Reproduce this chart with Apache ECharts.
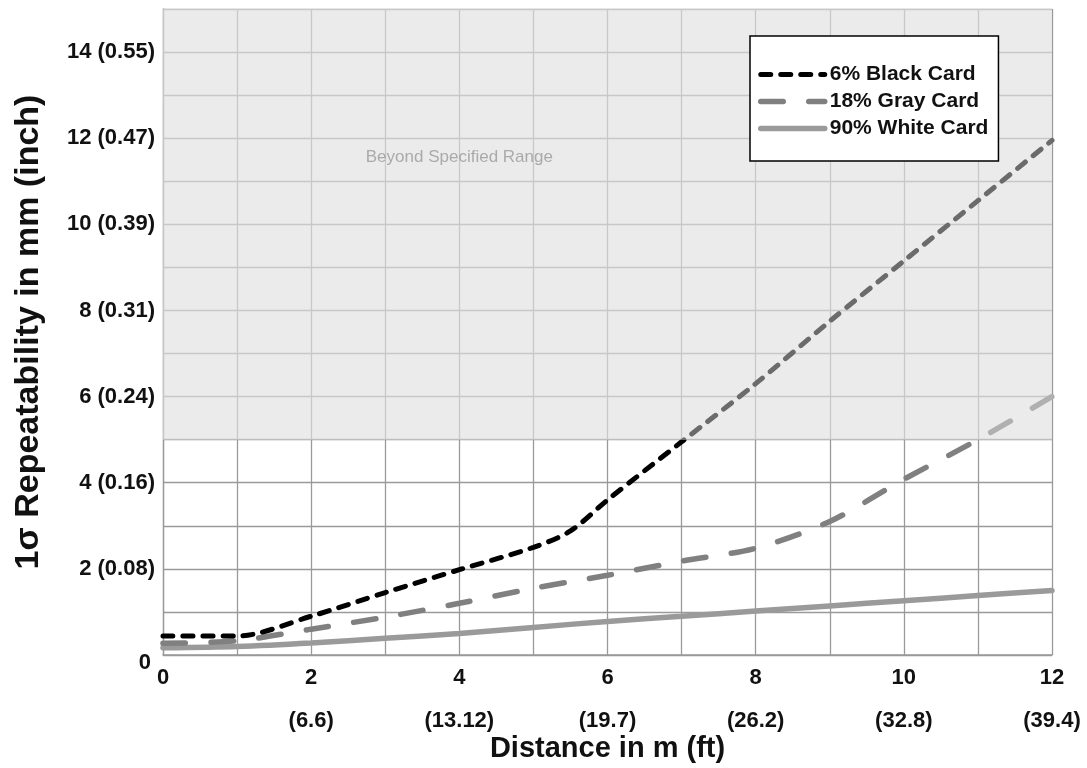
<!DOCTYPE html>
<html><head><meta charset="utf-8">
<script src="https://cdn.jsdelivr.net/npm/echarts@6/dist/echarts.min.js"></script>
<style>html,body{margin:0;padding:0;background:#fff}#c{width:1087px;height:768px}</style>
</head><body><div id="c"></div>
<script>
// ---- data ----
const blackX = [0, 1, 2, 3, 4, 5, 5.5, 6, 7, 8, 9, 10, 11, 12];
const blackY = [0.44, 0.44, 0.9, 1.45, 1.98, 2.5, 2.88, 3.6, 4.95, 6.3, 7.75, 9.15, 10.55, 11.95];
const grayX = [0, 1, 2, 3, 4, 5, 6, 7, 8, 9, 10, 11, 12];
const grayY = [0.27, 0.33, 0.6, 0.88, 1.2, 1.55, 1.85, 2.18, 2.48, 3.1, 4.08, 5.0, 6.0];
const whiteX = [0, 1, 2, 3, 4, 5, 6, 7, 8, 9, 10, 11, 12];
const whiteY = [0.17, 0.2, 0.28, 0.39, 0.5, 0.64, 0.78, 0.9, 1.02, 1.14, 1.26, 1.38, 1.5];
const seriesNames = ['6% Black Card', '18% Gray Card', '90% White Card'];
const xTickValues = [0, 2, 4, 6, 8, 10, 12];
const xTickFeet = ['', '(6.6)', '(13.12)', '(19.7)', '(26.2)', '(32.8)', '(39.4)'];
const yTickValues = [0, 2, 4, 6, 8, 10, 12, 14];
const yTickLabels = ['0', '2 (0.08)', '4 (0.16)', '6 (0.24)', '8 (0.31)', '10 (0.39)', '12 (0.47)', '14 (0.55)'];
const specLimit = 5;
const yMax = 15;
const regionText = 'Beyond Specified Range';
const regionTextAt = [4, 11.55];

const FONT = "'Liberation Sans Narrow', 'Liberation Sans', Arial, sans-serif";
const pairs = (xs, ys) => xs.map((x, i) => [x, ys[i]]);

const C = { black: '#000', blackOut: '#6b6b6b', gray: '#808080', grayOut: '#b0b0b0', white: '#9a9a9a' };
const blackStyle = { color: C.black, width: 5, type: [10, 10], cap: 'round' };
const grayStyle = { color: C.gray, width: 5.5, type: [22.5, 25.5], cap: 'round' };
const whiteStyle = { color: C.white, width: 5.5, type: 'solid', cap: 'round' };
const hiddenSymbol = { opacity: 0 };

const chart = echarts.init(document.getElementById('c'));
chart.setOption({
  animation: false,
  backgroundColor: '#fff',
  grid: { left: 163, right: 35, top: 9, bottom: 113, outerBoundsMode: 'none', containLabel: false },
  xAxis: {
    type: 'value', min: 0, max: 12, interval: 1,
    name: 'Distance in m (ft)', nameLocation: 'middle', nameGap: 79, nameMoveOverlap: false,
    nameTextStyle: { fontFamily: FONT, fontWeight: 'bold', fontSize: 29, color: '#111' },
    axisLine: { lineStyle: { color: '#999', width: 1.5 } },
    axisTick: { show: false },
    splitLine: { show: true, lineStyle: { color: '#9a9a9a', width: 1.3 } },
    axisLabel: {
      margin: 1, lineHeight: 43,
      fontFamily: FONT, fontWeight: 'bold', fontSize: 22, color: '#111',
      formatter: v => {
        const i = xTickValues.indexOf(v);
        if (i < 0) return '';
        return xTickFeet[i] ? v + '\n' + xTickFeet[i] : String(v);
      }
    }
  },
  yAxis: {
    type: 'value', min: 0, max: yMax, interval: 1,
    name: '1σ Repeatability in mm (inch)', nameLocation: 'middle', nameGap: 117, nameMoveOverlap: false,
    nameTextStyle: { fontFamily: FONT, fontWeight: 'bold', fontSize: 34, color: '#111' },
    axisLine: { show: true, lineStyle: { color: '#999', width: 1.3 } },
    axisTick: { show: false },
    splitLine: { show: true, lineStyle: { color: '#9a9a9a', width: 1.3 } },
    axisLabel: {
      margin: 8, fontFamily: FONT, fontWeight: 'bold', fontSize: 22, color: '#111',
      formatter: v => {
        const i = yTickValues.indexOf(v);
        if (i < 0) return '';
        return v === 0 ? '{z|}\n{z|' + yTickLabels[i] + '}' : yTickLabels[i];
      },
      rich: { z: { fontFamily: FONT, fontWeight: 'bold', fontSize: 22, color: '#111', lineHeight: 16, padding: [0, 4, 0, 0] } }
    }
  },
  legend: {
    orient: 'vertical', left: 750, top: 36,
    backgroundColor: '#fff', borderColor: '#000', borderWidth: 1.5, borderRadius: 0,
    padding: [28, 10, 22, 8], itemGap: 6, itemWidth: 64, itemHeight: 14,
    textStyle: { fontFamily: FONT, fontWeight: 'bold', fontSize: 21, color: '#111' },
    data: [
      { name: seriesNames[0], lineStyle: blackStyle, itemStyle: hiddenSymbol },
      { name: seriesNames[1], lineStyle: grayStyle, itemStyle: hiddenSymbol },
      { name: seriesNames[2], lineStyle: whiteStyle, itemStyle: hiddenSymbol }
    ]
  },
  series: [
    {
      name: 'region', type: 'scatter', z: 1, silent: true, symbolSize: 0,
      data: [regionTextAt],
      label: { show: true, position: 'inside', formatter: regionText,
        fontFamily: "'Liberation Sans', Arial, sans-serif", fontSize: 17, color: '#9a9a9a' },
      markArea: {
        silent: true,
        itemStyle: { color: '#e0e0e0', opacity: 0.65 },
        data: [[{ yAxis: specLimit }, { yAxis: yMax }]]
      }
    },
    { name: seriesNames[0], type: 'line', z: 5, smooth: 0.3, symbol: 'none', showSymbol: false,
      lineStyle: blackStyle, itemStyle: { color: C.black }, data: pairs(blackX, blackY) },
    { name: seriesNames[1], type: 'line', z: 4, smooth: 0.3, symbol: 'none', showSymbol: false,
      lineStyle: grayStyle, itemStyle: { color: C.gray }, data: pairs(grayX, grayY) },
    { name: seriesNames[2], type: 'line', z: 3, smooth: 0.3, symbol: 'none', showSymbol: false,
      lineStyle: whiteStyle, itemStyle: { color: C.white }, data: pairs(whiteX, whiteY) }
  ]
});

// colour change at the specified-range limit, positioned through the y axis scale
const yLim = chart.convertToPixel({ gridIndex: 0 }, [0, specLimit])[1];
const split = (below, above) => ({
  type: 'linear', global: true, x: 0, y: yLim - 1, x2: 0, y2: yLim + 1,
  colorStops: [{ offset: 0, color: above }, { offset: 0.5, color: above },
               { offset: 0.5, color: below }, { offset: 1, color: below }]
});
chart.setOption({
  series: [{}, { lineStyle: { color: split(C.black, C.blackOut) } },
           { lineStyle: { color: split(C.gray, C.grayOut) } }, {}]
});
</script></body></html>
